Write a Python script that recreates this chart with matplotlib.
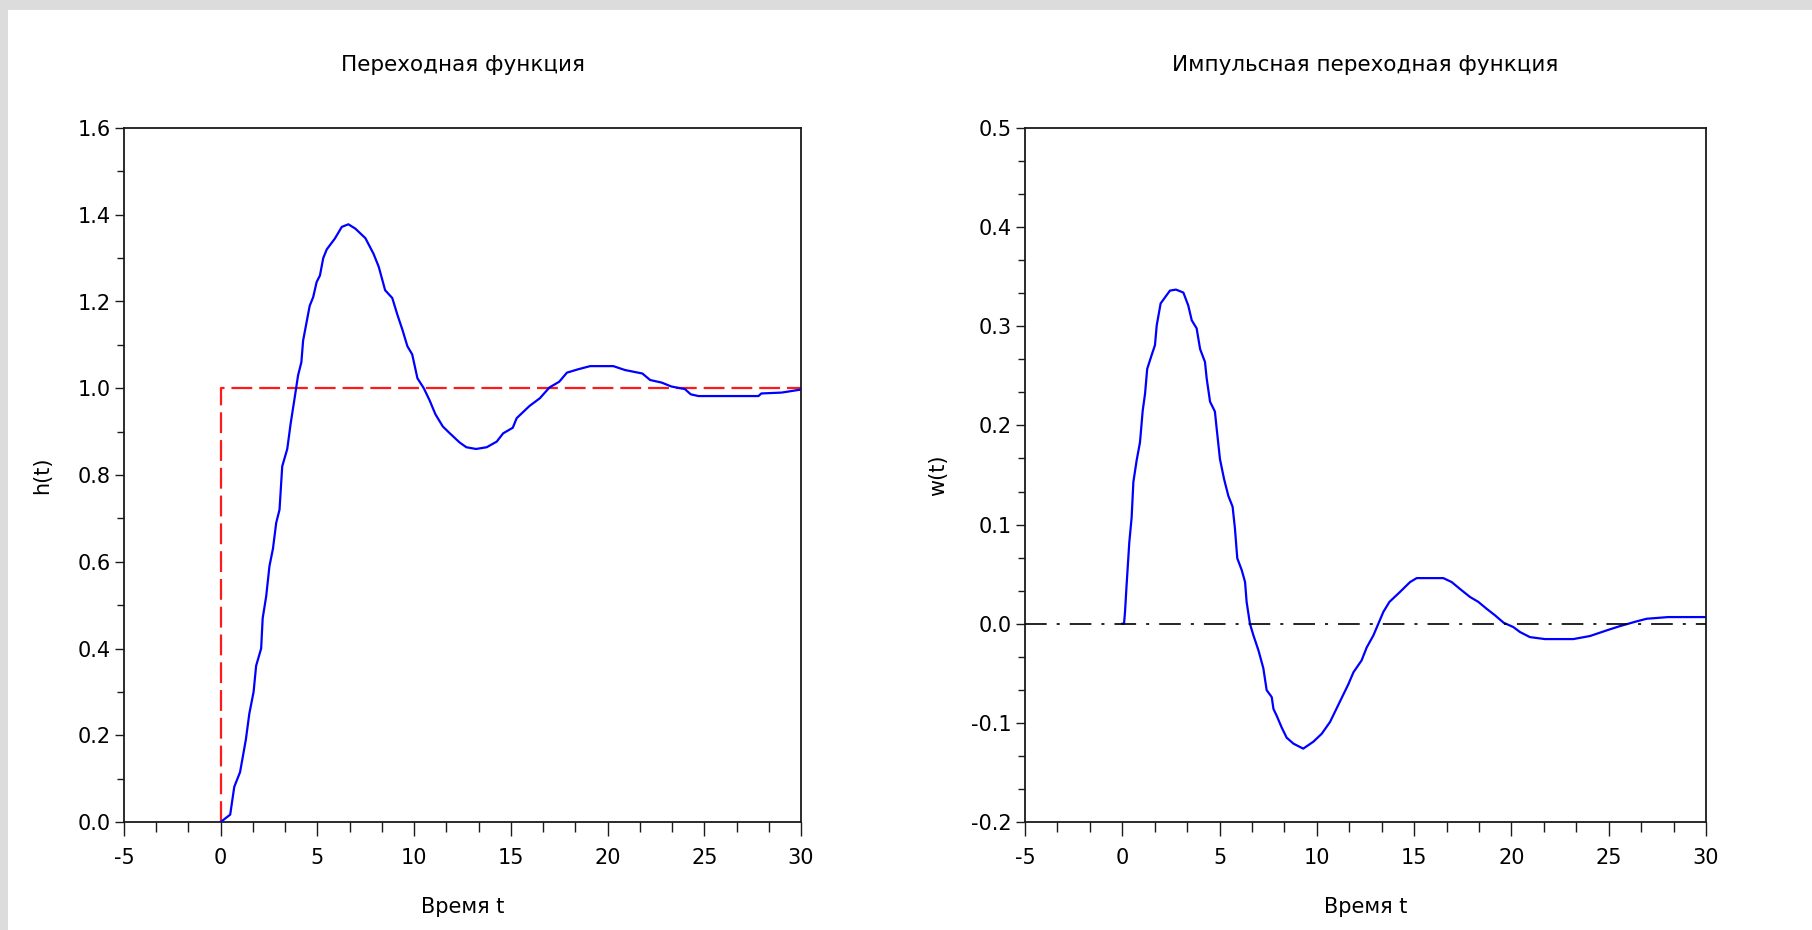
import matplotlib
matplotlib.use('Agg')
import matplotlib.pyplot as plt
from matplotlib.ticker import MultipleLocator, AutoMinorLocator, FuncFormatter
from matplotlib.patches import Rectangle

# ---- data ----
t_h = [0, 0.49, 0.7, 1.0, 1.3, 1.48, 1.7, 1.83, 2.09, 2.17, 2.35, 2.52, 2.7, 2.87,
       3.04, 3.18, 3.44, 3.62, 3.83, 4.0, 4.17, 4.26, 4.43, 4.6, 4.78, 4.96, 5.13,
       5.3, 5.48, 5.9, 6.26, 6.6, 6.96, 7.48, 7.9, 8.17, 8.5, 8.87, 9.13, 9.4, 9.65,
       9.9, 10.17, 10.5, 10.8, 11.1, 11.48, 11.8, 12.35, 12.7, 13.2, 13.75, 14.27,
       14.6, 15.1, 15.3, 15.96, 16.5, 17.0, 17.5, 17.9, 18.5, 19.1, 20.3, 20.9, 21.8,
       22.2, 22.8, 23.3, 24.0, 24.3, 24.7, 27.8, 27.95, 29.0, 30.0]
h_vals = [0, 0.017, 0.081, 0.115, 0.19, 0.25, 0.30, 0.36, 0.40, 0.47, 0.52, 0.59, 0.63,
          0.69, 0.72, 0.82, 0.86, 0.92, 0.98, 1.03, 1.06, 1.11, 1.15, 1.19, 1.21, 1.245,
          1.26, 1.30, 1.32, 1.345, 1.372, 1.378, 1.368, 1.346, 1.31, 1.28, 1.226, 1.208,
          1.17, 1.134, 1.097, 1.078, 1.023, 1.0, 0.972, 0.94, 0.912, 0.898, 0.875, 0.864,
          0.86, 0.864, 0.877, 0.896, 0.909, 0.931, 0.959, 0.977, 1.002, 1.015, 1.036,
          1.044, 1.051, 1.051, 1.042, 1.034, 1.019, 1.013, 1.004, 0.998, 0.986, 0.982,
          0.982, 0.988, 0.990, 0.997]

step_t = [0, 0, 30]
step_v = [0, 1, 1]

t_w = [0, 0.09, 0.14, 0.22, 0.36, 0.48, 0.57, 0.74, 0.91, 1.05, 1.17, 1.28, 1.51, 1.68,
       1.77, 1.97, 2.19, 2.45, 2.76, 3.14, 3.39, 3.57, 3.82, 4.0, 4.25, 4.34, 4.51,
       4.76, 4.85, 5.02, 5.23, 5.45, 5.67, 5.79, 5.91, 6.14, 6.31, 6.39, 6.56, 6.74,
       7.0, 7.25, 7.42, 7.68, 7.77, 7.94, 8.2, 8.45, 8.8, 9.3, 9.82, 10.25, 10.68,
       11.1, 11.62, 11.88, 12.3, 12.56, 12.9, 13.16, 13.42, 13.73, 14.27, 14.79,
       15.13, 16.5, 16.93, 17.36, 17.87, 18.3, 18.73, 19.16, 19.6, 20.1, 20.44,
       20.95, 21.72, 23.18, 24.04, 24.9, 25.58, 26.44, 26.95, 28.06, 30.0]
w_vals = [0, 0, 0.0118, 0.0386, 0.082, 0.107, 0.143, 0.165, 0.183, 0.215, 0.232, 0.257,
          0.271, 0.281, 0.301, 0.323, 0.329, 0.336, 0.337, 0.334, 0.321, 0.306, 0.298,
          0.277, 0.264, 0.247, 0.224, 0.214, 0.197, 0.166, 0.146, 0.129, 0.118, 0.096,
          0.066, 0.054, 0.042, 0.022, 0, -0.0118, -0.027, -0.045, -0.067, -0.074,
          -0.086, -0.093, -0.105, -0.115, -0.121, -0.126, -0.119, -0.111, -0.099,
          -0.082, -0.061, -0.049, -0.037, -0.024, -0.012, 0, 0.012, 0.022, 0.032,
          0.042, 0.046, 0.046, 0.042, 0.035, 0.027, 0.022, 0.015, 0.0084, 0.001,
          -0.0034, -0.0084, -0.0135, -0.0155, -0.0155, -0.0124, -0.0067, -0.0024,
          0.0024, 0.005, 0.0067, 0.0067]

zero_t = [-5, 30]
zero_v = [0, 0]

title_left = 'Переходная функция'
title_right = 'Импульсная переходная функция'
xlabel_text = 'Время t'
ylabel_left = 'h(t)'
ylabel_right = 'w(t)'

# ---- style ----
plt.rcParams['font.family'] = ['DejaVu Sans']
plt.rcParams['lines.scale_dashes'] = False
FS = 15
TFS = 15.5
DARK = '#1a1a1a'

W, H = 1812, 930
fig = plt.figure(figsize=(W / 100, H / 100), dpi=100, facecolor='#dcdcdc')
fig.add_artist(Rectangle((8 / W, 0), 1 - 8 / W, 1 - 10 / H, transform=fig.transFigure,
                         facecolor='white', edgecolor='none', zorder=-10))

ax1 = fig.add_axes([124 / W, 1 - 822 / H, 677 / W, 694 / H])
ax2 = fig.add_axes([1025 / W, 1 - 822 / H, 681 / W, 694 / H])

xfmt = FuncFormatter(lambda v, p: '%d' % round(v))


def yfmt(v, p):
    if abs(v) < 1e-9:
        v = 0.0
    return '%.1f' % v


for ax in (ax1, ax2):
    ax.set_xlim(-5, 30)
    ax.xaxis.set_major_locator(MultipleLocator(5))
    ax.xaxis.set_minor_locator(AutoMinorLocator(3))
    ax.xaxis.set_major_formatter(xfmt)
    ax.yaxis.set_major_formatter(FuncFormatter(yfmt))
    ax.tick_params(axis='x', which='major', direction='out', length=10, width=1.0,
                   color=DARK, labelsize=FS, pad=9, top=False)
    ax.tick_params(axis='x', which='minor', direction='out', length=7, width=1.0,
                   color=DARK, top=False)
    ax.tick_params(axis='y', which='major', direction='out', length=6.5, width=1.0,
                   color=DARK, labelsize=FS, pad=3, right=False)
    ax.tick_params(axis='y', which='minor', direction='out', length=5, width=1.0,
                   color=DARK, right=False)
    for s in ax.spines.values():
        s.set_linewidth(1.3)
        s.set_color(DARK)
    ax.set_facecolor('white')
    ax.set_xlabel(xlabel_text, fontsize=FS, va='center')
    ax.xaxis.set_label_coords(0.5, -0.1225)

# left panel
ax1.set_ylim(0, 1.6)
ax1.yaxis.set_major_locator(MultipleLocator(0.2))
ax1.yaxis.set_minor_locator(AutoMinorLocator(2))
ax1.plot(t_h, h_vals, color='#0000ff', lw=1.6, zorder=3)
ax1.plot(step_t, step_v, color='#ff1a1a', lw=1.6, dashes=[15, 5], zorder=2)
ax1.set_title(title_left, fontsize=TFS, y=1.0908, va='center', pad=0)
ax1.set_ylabel(ylabel_left, fontsize=FS, va='center')
ax1.yaxis.set_label_coords(-0.121, 0.5)

# right panel
ax2.set_ylim(-0.2, 0.5)
ax2.yaxis.set_major_locator(MultipleLocator(0.1))
ax2.yaxis.set_minor_locator(AutoMinorLocator(3))
ax2.plot(t_w, w_vals, color='#0000ff', lw=1.6, zorder=2)
ax2.plot(zero_t, zero_v, color='black', lw=1.2, dashes=[15.6, 7.2, 2.2, 7.2], zorder=3)
ax2.set_title(title_right, fontsize=TFS, y=1.0908, va='center', pad=0)
ax2.set_ylabel(ylabel_right, fontsize=FS, va='center')
ax2.yaxis.set_label_coords(-0.1278, 0.5)

fig.savefig('out.png', dpi=100, facecolor=fig.get_facecolor())
